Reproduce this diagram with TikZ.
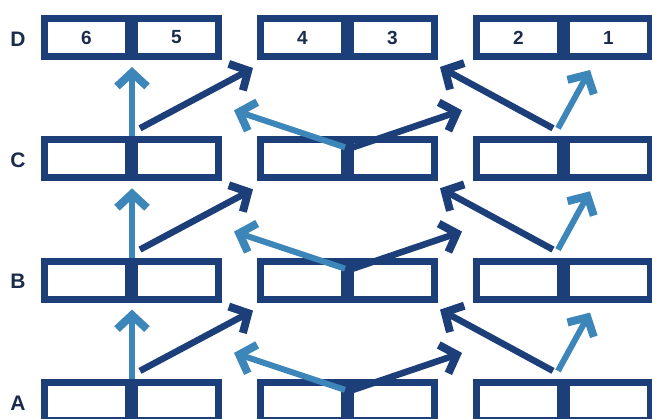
\documentclass[tikz,border=0pt]{standalone}
\usepackage{fontspec}
\setmainfont{Liberation Sans}
\usetikzlibrary{arrows.meta,calc}
\definecolor{navy}{HTML}{1C3F7A}
\definecolor{sky}{HTML}{3D86BA}
\definecolor{digit}{HTML}{1A2B4C}

\begin{document}
\begin{tikzpicture}[x=1pt,y=1pt,
 cell/.style={draw=navy,line width=7pt,outer sep=3.5pt,inner sep=0pt,
 minimum width=84pt,minimum height=38pt,text=digit,
 font=\bfseries\fontsize{19}{19}\selectfont},
 rowlab/.style={text=digit,font=\bfseries\fontsize{21}{21}\selectfont},
 tip/.style={-{Straight Barb[length=14pt,width=30pt,line width=8pt]}},
 dark/.style={draw=navy,line width=6.5pt,tip},
 pale/.style={draw=sky,line width=6pt,tip},
 upar/.style={pale,line width=5.5pt}]
\useasboundingbox (0,0) rectangle (652,419);
% empty rows
\foreach \r/\y in {A/17.6,B/138.9,C/260.2}{
 \foreach \i/\x in {1/86.5,2/176.5,3/302.5,4/392.5,5/518.5,6/608.5}
 \node[cell] (\r\i) at (\x,\y) {};
 \node[rowlab] (lab\r) at (18,\y-1.5) {\r};
}
% top row with numbers
\foreach \i/\x in {1/86.5,2/176.5,3/302.5,4/392.5,5/518.5,6/608.5}{
 \pgfmathtruncatemacro{\n}{7-\i}
 \node[cell] (D\i) at (\x,381.5) {\n};
}
\node[rowlab] (labD) at (18,380) {D};
% moves between rows
\foreach \l/\u in {A/B,B/C,C/D}{
 \draw[upar] (\l1.north east) -- ($(\u1.south east)+(0,-7)$);
 \draw[dark] ($(\l2.north west)+(9,8)$) -- ($(\u3.south west)+(-4,-8)$);
 \draw[pale] ($(\l4.north west)+(-2,-11)$) -- ($(\l3.north west)+(-23,26)$);
 \draw[dark] ($(\l4.north west)+(6,-11)$) -- ($(\l5.north west)+(-11,26)$);
 \draw[dark] ($(\l6.north west)+(-10,8)$) -- ($(\u4.south east)+(2,-7)$);
 \draw[pale] ($(\l6.north west)+(-5,8)$) -- ($(\u6.south west)+(27,-10)$);
}
\end{tikzpicture}
\end{document}
